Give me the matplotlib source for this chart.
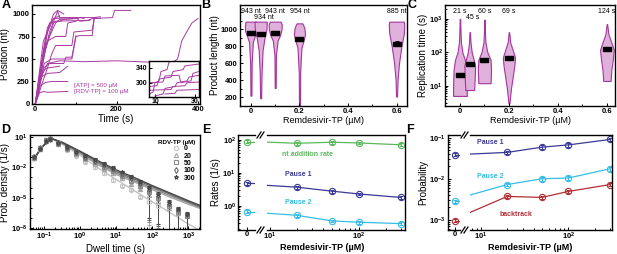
import numpy as np
import matplotlib
matplotlib.use('Agg')
import matplotlib.pyplot as plt
from matplotlib.lines import Line2D
from matplotlib.ticker import MultipleLocator, LogLocator, NullFormatter, FixedLocator

plt.rcParams['font.family'] = ['Liberation Sans', 'DejaVu Sans']
plt.rcParams['font.weight'] = 'bold'
plt.rcParams['mathtext.fontset'] = 'custom'
plt.rcParams['mathtext.rm'] = 'Liberation Sans:bold'
plt.rcParams['mathtext.bf'] = 'Liberation Sans:bold'
plt.rcParams['mathtext.default'] = 'rm'
plt.rcParams['axes.linewidth'] = 1.0

# ---------------- data ----------------
# A: replication traces (time s, position nt)
traces = [
    ([0, 20, 35, 55, 60, 150], [0, 500, 800, 1030, 960, 960]),
    ([0, 25, 45, 50, 130, 140, 190, 195, 235], [0, 600, 900, 920, 930, 950, 960, 1040, 1040]),
    ([0, 15, 30, 60, 120, 200, 280, 340, 350, 360, 372, 385, 400],
     [0, 300, 450, 480, 470, 480, 465, 470, 500, 700, 800, 900, 950]),
    ([0, 10, 20, 30, 80], [0, 120, 140, 130, 140]),
    ([0, 12, 25, 40, 80], [0, 200, 240, 250, 250]),
    ([0, 15, 30, 60, 80], [0, 300, 340, 350, 420]),
    ([0, 20, 35, 70, 75, 90, 100], [0, 400, 450, 450, 520, 520, 760]),
    ([0, 22, 40, 90, 100, 110, 140, 145, 160], [0, 450, 500, 500, 750, 760, 760, 950, 950]),
    ([0, 18, 30, 50, 75, 80, 100], [0, 500, 700, 750, 750, 900, 920]),
    ([0, 14, 25, 35, 60, 70, 95], [0, 400, 700, 900, 920, 940, 950]),
    ([0, 10, 20, 30, 45, 60], [0, 300, 600, 850, 950, 980]),
    ([0, 20, 45, 100, 110, 135], [0, 700, 950, 960, 920, 930]),
    ([0, 25, 50, 60, 105, 110, 120], [0, 650, 900, 940, 950, 960, 950]),
    ([0, 30, 40, 50, 90, 95, 140, 145, 160], [0, 400, 550, 650, 650, 800, 820, 960, 970]),
    ([0, 8, 20, 30, 60], [0, 150, 380, 400, 420]),
    ([0, 30, 45, 55, 70], [0, 800, 1000, 1040, 1000]),
]
inset_traces = [
    ([7, 9, 10, 12, 13, 16, 17, 20], [270, 275, 300, 305, 330, 335, 355, 360]),
    ([7, 11, 12, 18, 19, 24, 25, 32], [290, 292, 310, 315, 330, 335, 345, 350]),
    ([7, 14, 15, 22, 23, 28, 29, 32], [300, 302, 318, 320, 300, 305, 325, 330]),
    ([10, 14, 15, 20, 21, 26, 27, 32], [265, 270, 285, 290, 300, 305, 315, 320]),
    ([7, 18, 19, 25, 26, 32], [280, 282, 290, 292, 300, 302]),
    ([15, 20, 21, 32], [270, 272, 280, 282]),
]

# B: product length violins
rdv_uM = [0, 0.04, 0.1, 0.2, 0.6]
b_levels = [
    [220, 600, 850, 920, 980, 1040, 1090],
    [190, 500, 750, 900, 1000, 1060, 1090],
    [310, 700, 870, 930, 1000, 1060, 1090],
    [100, 500, 780, 860, 940, 1020, 1070],
    [210, 400, 600, 800, 950, 1050, 1090],
]
b_halfw = [
    [0.002, 0.003, 0.008, 0.016, 0.024, 0.025, 0.022],
    [0.002, 0.004, 0.008, 0.016, 0.024, 0.025, 0.025],
    [0.002, 0.003, 0.010, 0.020, 0.026, 0.027, 0.022],
    [0.002, 0.003, 0.008, 0.016, 0.023, 0.020, 0.012],
    [0.002, 0.004, 0.010, 0.020, 0.030, 0.032, 0.030],
]
b_median = [952, 940, 960, 884, 832]
b_err = [15, 15, 12, 12, 25]
b_labels = ['943 nt', '934 nt', '943 nt', '954 nt', '885 nt']

# C: replication time violins
c_levels = [
    [5, 10, 30, 60, 100, 200, 500, 1000],
    [7.5, 15, 40, 60, 100, 200, 400],
    [12, 30, 60, 100, 200, 400, 950],
    [3, 8, 20, 40, 70, 120, 200, 400],
    [14, 30, 60, 120, 200, 350, 700],
]
c_halfw = [
    [0.028, 0.028, 0.026, 0.020, 0.010, 0.004, 0.002, 0.001],
    [0.018, 0.020, 0.022, 0.016, 0.008, 0.003, 0.001],
    [0.025, 0.027, 0.025, 0.012, 0.004, 0.002, 0.001],
    [0.002, 0.008, 0.016, 0.022, 0.025, 0.015, 0.005, 0.001],
    [0.015, 0.018, 0.024, 0.028, 0.018, 0.006, 0.001],
]
c_median = [21, 45, 60, 69, 124]
c_labels = ['21 s', '45 s', '60 s', '69 s', '124 s']

# D: dwell time distributions (log10 values)
d_conc = ['0', '20', '50', '100', '300']
d_logx = [-1.27, -1.1, -0.95, -0.83, -0.6, -0.35, -0.1, 0.15, 0.4, 0.65, 0.9,
          1.15, 1.4, 1.65, 1.9, 2.15, 2.45, 2.7, 2.95]
d_logy = [
    [-1.1, -0.2, 0.7, 0.8, 0.3, -0.25, -0.85, -1.45, -2.0, -2.55, -3.25, -3.8, -4.2, -4.9, -5.4, -5.8, np.nan, np.nan, np.nan],
    [-1.05, -0.15, 0.7, 0.8, 0.35, -0.15, -0.7, -1.2, -1.7, -2.15, -2.6, -3.1, -3.6, -4.1, -4.7, -5.3, -6.0, -6.5, np.nan],
    [-1.0, -0.1, 0.7, 0.85, 0.4, -0.1, -0.6, -1.05, -1.5, -1.95, -2.4, -2.85, -3.3, -3.85, -4.4, -5.0, -5.8, -6.4, -6.8],
    [-0.95, -0.1, 0.65, 0.85, 0.4, -0.05, -0.5, -0.95, -1.35, -1.75, -2.2, -2.65, -3.1, -3.6, -4.2, -4.8, -5.6, -6.2, -6.7],
    [-1.0, -0.2, 0.6, 0.85, 0.45, 0.0, -0.45, -0.85, -1.25, -1.65, -2.05, -2.5, -2.95, -3.4, -4.0, -4.6, -5.4, -6.1, -6.6],
]
d_fit_logx = [-1.3, -1.1, -0.9, -0.75, -0.5, 0.0, 0.5, 1.0, 1.5, 2.0, 2.5, 3.0, 3.35]
d_fit_logy = [
    [-1.3, -0.2, 0.6, 0.78, 0.3, -0.8, -2.05, -3.2, -4.3, -5.4, -6.5, -7.6, -8.3],
    [-1.3, -0.2, 0.6, 0.78, 0.35, -0.65, -1.75, -2.7, -3.45, -4.2, -4.95, -5.65, -6.1],
    [-1.3, -0.2, 0.6, 0.8, 0.4, -0.55, -1.6, -2.55, -3.3, -4.05, -4.8, -5.5, -6.0],
    [-1.3, -0.2, 0.6, 0.8, 0.45, -0.45, -1.45, -2.4, -3.15, -3.9, -4.65, -5.4, -5.9],
    [-1.3, -0.2, 0.6, 0.8, 0.5, -0.4, -1.35, -2.25, -3.0, -3.8, -4.55, -5.3, -5.8],
]
d_markers = ['o', '^', 's', 'd', '*']
d_grays = ['#c4c4c4', '#a6a6a6', '#8a8a8a', '#6a6a6a', '#474747']

# E: rates vs remdesivir-TP (uM)
ef_conc = [20, 50, 100, 300]
e_nt = [89, 79, 85, 81, 71]          # first value at 0 uM
e_nt_edge = 86
e_p1 = [4.8, 3.7, 2.8, 2.3, 1.8]
e_p1_edge = 4.2
e_p2 = [0.66, 0.52, 0.35, 0.32, 0.29]
e_p2_edge = 0.60

# F: probabilities
f_p1 = [0.039, 0.044, 0.059, 0.067, 0.091]
f_p1_edge = 0.040
f_p2 = [0.0028, 0.0072, 0.0100, 0.0104, 0.0175]
f_p2_edge = 0.0040
f_bt = [0.00095, 0.0037, 0.0035, 0.0049, 0.0072]
f_bt_edge = 0.0015

# ---------------- styling ----------------
W, H = 617, 254
PURPLE = '#a83aa2'
VIO_FACE = '#deb0da'
VIO_EDGE = '#a4359e'
GREEN = '#5cb85c'
NAVY = '#3a3a96'
CYAN = '#35bde6'
RED = '#b22f35'
TICK_FS = 5.5
LAB_FS = 7
BAR = [(-1, -0.45), (1, -0.45), (1, 0.45), (-1, 0.45), (-1, -0.45)]   # flat median marker

fig = plt.figure(figsize=(W / 100, H / 100), dpi=100)


def px_axes(l, t, r, b):
    return fig.add_axes([l / W, 1 - b / H, (r - l) / W, (b - t) / H])


def ftext(x, y, s, **kw):
    kw.setdefault('va', 'center')
    fig.text(x / W, 1 - y / H, s, **kw)


def style(ax):
    ax.tick_params(which='both', direction='in', labelsize=TICK_FS, width=0.7, pad=1.5)
    ax.tick_params(which='major', length=2.5)
    ax.tick_params(which='minor', length=1.5)


# ---------------- A ----------------
axA = px_axes(32, 5, 200, 104)
for t, p in traces:
    axA.plot(t, p, color=PURPLE, lw=0.7)
axA.set_xlim(-8, 405)
axA.set_ylim(0, 1100)
axA.set_xticks([0, 200, 400])
axA.xaxis.set_minor_locator(MultipleLocator(100))
axA.set_yticks([0, 250, 500, 750, 1000])
style(axA)
axA.set_xlabel('Time (s)', fontsize=LAB_FS, labelpad=1)
axA.set_ylabel('Position (nt)', fontsize=LAB_FS, labelpad=2)
axA.text(0.25, 0.155, '[ATP] = 500 µM\n[RDV-TP] = 100 µM', transform=axA.transAxes,
         color=PURPLE, fontsize=4.5, fontweight='normal', va='center', linespacing=1.3)

axI = px_axes(149, 61, 199, 97)
for t, p in inset_traces:
    axI.plot(t, p, color=PURPLE, lw=0.7)
axI.set_xlim(7, 32)
axI.set_ylim(262, 358)
axI.set_xticks([10, 30])
axI.set_yticks([300, 340])
style(axI)
axI.tick_params(labelsize=5, pad=1)

# ---------------- B ----------------
axB = px_axes(240, 5, 407, 106)
for x0, lv, hw in zip(rdv_uM, b_levels, b_halfw):
    lv = np.array(lv, float)
    hw = np.array(hw, float)
    axB.fill_betweenx(lv, x0 - hw, x0 + hw, facecolor=VIO_FACE, edgecolor=VIO_EDGE, lw=0.8)
axB.errorbar(rdv_uM, b_median, yerr=b_err, fmt='none', ecolor='k',
             elinewidth=0.6, capsize=1.5, capthick=0.6)
axB.plot(rdv_uM, b_median, ls='none', marker=BAR, color='k', ms=6)
for i, (x0, lab) in enumerate(zip(rdv_uM, b_labels)):
    yy = 0.88 if i == 1 else 0.94
    axB.text(x0 + (0.012 if i == 1 else 0), yy, lab, transform=axB.get_xaxis_transform(),
             ha='center', va='center', fontsize=5, fontweight='normal')
axB.set_xlim(-0.045, 0.643)
axB.set_ylim(98, 1286)
axB.set_xticks([0, 0.2, 0.4, 0.6])
axB.set_xticklabels(['0', '0.2', '0.4', '0.6'])
axB.xaxis.set_minor_locator(MultipleLocator(0.1))
axB.set_yticks([200, 400, 600, 800, 1000])
axB.yaxis.set_minor_locator(MultipleLocator(100))
style(axB)
axB.set_xlabel('Remdesivir-TP (µM)', fontsize=6.5, labelpad=1)
axB.set_ylabel('Product length (nt)', fontsize=LAB_FS, labelpad=1)

# ---------------- C ----------------
axC = px_axes(445, 5, 615, 106)
axC.set_yscale('log')
for x0, lv, hw in zip(rdv_uM, c_levels, c_halfw):
    lv = np.array(lv, float)
    hw = np.array(hw, float)
    axC.fill_betweenx(lv, x0 - hw, x0 + hw, facecolor=VIO_FACE, edgecolor=VIO_EDGE, lw=0.8)
axC.plot(rdv_uM, c_median, ls='none', marker=BAR, color='k', ms=6)
for i, (x0, lab) in enumerate(zip(rdv_uM, c_labels)):
    yy = 0.875 if i == 1 else 0.94
    axC.text(x0 + (0.012 if i == 1 else 0), yy, lab, transform=axC.get_xaxis_transform(),
             ha='center', va='center', fontsize=5, fontweight='normal')
axC.set_xlim(-0.061, 0.633)
axC.set_ylim(2.5, 2600)
axC.set_xticks([0, 0.2, 0.4, 0.6])
axC.set_xticklabels(['0', '0.2', '0.4', '0.6'])
axC.xaxis.set_minor_locator(MultipleLocator(0.1))
axC.yaxis.set_major_locator(FixedLocator([10, 100, 1000]))
axC.yaxis.set_minor_locator(LogLocator(base=10, subs=np.arange(2, 10)))
axC.yaxis.set_minor_formatter(NullFormatter())
style(axC)
axC.set_xlabel('Remdesivir-TP (µM)', fontsize=6.5, labelpad=1)
axC.set_ylabel('Replication time (s)', fontsize=LAB_FS, labelpad=1)

# ---------------- D ----------------
axD = px_axes(30, 135, 200, 229)
axD.set_xscale('log')
axD.set_yscale('log')
dx = 10 ** np.array(d_logx)
handles = []
for ly, fy, m, c, lab in zip(d_logy, d_fit_logy, d_markers, d_grays, d_conc):
    axD.plot(10 ** np.array(d_fit_logx), 10 ** np.array(fy), color=c, lw=1.0)
    yv = 10 ** np.array(ly)
    lo = np.where(np.array(d_logx) > 1.8, yv * 0.999, yv * 0.3)
    hi = yv * 0.5
    axD.errorbar(dx, yv, yerr=[lo, hi], fmt=m, color=c, mfc='none', ms=3, mew=0.8,
                 elinewidth=0.7, capsize=1.2, capthick=0.6)
    handles.append(Line2D([], [], ls='none', marker=m, color=c, mfc='none', ms=3, mew=0.8))
axD.set_xlim(0.041, 2100)
axD.set_ylim(8e-9, 16)
axD.xaxis.set_major_locator(FixedLocator([0.1, 1, 10, 100, 1000]))
axD.xaxis.set_minor_locator(LogLocator(base=10, subs=np.arange(2, 10)))
axD.xaxis.set_minor_formatter(NullFormatter())
axD.yaxis.set_major_locator(FixedLocator([1e1, 1e-2, 1e-5, 1e-8]))
axD.yaxis.set_minor_locator(FixedLocator([1e0, 1e-1, 1e-3, 1e-4, 1e-6, 1e-7]))
axD.yaxis.set_minor_formatter(NullFormatter())
style(axD)
axD.set_xlabel('Dwell time (s)', fontsize=LAB_FS, labelpad=1)
axD.set_ylabel('Prob. density (1/s)', fontsize=LAB_FS, labelpad=1)
leg = axD.legend(handles, d_conc, title='RDV-TP (µM)', loc='upper right', frameon=False,
                 fontsize=5, title_fontsize=4.5, handlelength=1.0, handletextpad=0.6,
                 labelspacing=0.05, borderaxespad=0.3)
leg._legend_box.align = 'right'


# ---------------- E / F broken axes ----------------
def broken_pair(lbox, rbox, xlim_l, xlim_r, ylim):
    al = px_axes(*lbox)
    ar = px_axes(*rbox)
    for a in (al, ar):
        a.set_yscale('log')
        a.set_ylim(*ylim)
    ar.set_xscale('log')
    al.set_xlim(*xlim_l)
    ar.set_xlim(*xlim_r)
    al.spines['right'].set_visible(False)
    ar.spines['left'].set_visible(False)
    al.set_xticks([0])
    ar.xaxis.set_major_locator(FixedLocator([10, 100]))
    ar.xaxis.set_minor_locator(LogLocator(base=10, subs=np.arange(2, 10)))
    ar.xaxis.set_minor_formatter(NullFormatter())
    style(al)
    style(ar)
    al.tick_params(axis='x', pad=1)
    ar.tick_params(axis='x', pad=0.5)
    al.yaxis.set_minor_formatter(NullFormatter())
    ar.tick_params(axis='y', which='both', left=False, labelleft=False)
    # break marks
    gap = (rbox[0] - lbox[2])
    xm = lbox[2] + gap / 2
    for yb in (lbox[1], lbox[3]):
        for dxp in (-2.0, 1.0):
            x0 = (xm + dxp - 2) / W
            x1 = (xm + dxp + 2) / W
            fig.add_artist(Line2D([x0, x1], [1 - (yb + 3) / H, 1 - (yb - 3) / H],
                                  color='k', lw=0.9))
    return al, ar


def series(al, ar, vals, edge, color, xmin):
    kw = dict(marker='o', color=color, mfc='none', ms=4.5, mew=0.8, elinewidth=0.7,
              capsize=1.2, capthick=0.6, lw=0.9)
    al.plot([0, al.get_xlim()[1]], [vals[0], vals[0]], color=color, lw=0.9)
    al.errorbar([0], [vals[0]], yerr=[[vals[0] * 0.1], [vals[0] * 0.1]], **kw)
    ar.plot([xmin] + ef_conc, [edge] + list(vals[1:]), color=color, lw=0.9)
    v = np.array(vals[1:])
    ar.errorbar(ef_conc, v, yerr=[v * 0.1, v * 0.1], ls='none', **kw)


E_XMIN = 9.3
axEl, axEr = broken_pair((238, 135, 255, 230), (267, 135, 405, 230), (-1, 1), (E_XMIN, 330),
                         (0.186, 141))
axEl.yaxis.set_major_locator(FixedLocator([1, 10, 100]))
series(axEl, axEr, e_nt, e_nt_edge, GREEN, E_XMIN)
series(axEl, axEr, e_p1, e_p1_edge, NAVY, E_XMIN)
series(axEl, axEr, e_p2, e_p2_edge, CYAN, E_XMIN)
axEl.set_ylabel('Rates (1/s)', fontsize=LAB_FS, labelpad=1)
ftext(322, 247, 'Remdesivir-TP (µM)', ha='center', fontsize=6.5)
ftext(282, 154, 'nt addition rate', color=GREEN, fontsize=5)
ftext(285, 174, 'Pause 1', color=NAVY, fontsize=5)
ftext(285, 202, 'Pause 2', color=CYAN, fontsize=5)

F_XMIN = 7.5
axFl, axFr = broken_pair((448, 135, 460, 230), (470, 135, 612, 230), (-1.17, 0.83), (F_XMIN, 316),
                         (5.6e-4, 0.117))
axFl.yaxis.set_major_locator(FixedLocator([1e-3, 1e-2, 1e-1]))
series(axFl, axFr, f_p1, f_p1_edge, NAVY, F_XMIN)
series(axFl, axFr, f_p2, f_p2_edge, CYAN, F_XMIN)
series(axFl, axFr, f_bt, f_bt_edge, RED, F_XMIN)
axFl.set_ylabel('Probability', fontsize=LAB_FS, labelpad=1)
ftext(530, 247, 'Remdesivir-TP (µM)', ha='center', fontsize=6.5)
ftext(477, 142, 'Pause 1', color=NAVY, fontsize=5)
ftext(477, 177, 'Pause 2', color=CYAN, fontsize=5)
ftext(500, 215, 'backtrack', color=RED, fontsize=5)

# panel letters
for lab, x, y in [('A', 2, 5), ('B', 201, 5), ('C', 407, 5), ('D', 1, 130), ('E', 202, 130),
                  ('F', 406, 130)]:
    ftext(x, y, lab, fontsize=9, fontweight='bold')

fig.savefig('out.png', dpi=100)
